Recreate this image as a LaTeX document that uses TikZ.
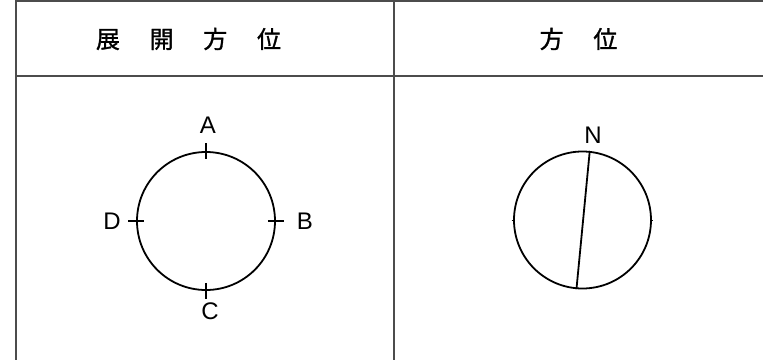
\documentclass[tikz,border=0pt]{standalone}
\usepackage{fontspec}
\setmainfont{Liberation Sans}
\newfontfamily\jpfont[AutoFakeBold=1.2]{Noto Sans CJK JP}
\begin{document}
\begin{tikzpicture}[x=1pt,y=-1pt,
  gridline/.style={draw=black!70, line width=2pt},
  ring/.style={circle, draw=black, line width=1.8pt, inner sep=0pt},
  tickmark/.style={draw=black, line width=1.8pt},
  lbl/.style={font=\fontsize{24}{24}\selectfont, inner sep=0pt},
  head/.style={font=\jpfont\bfseries\fontsize{24}{26}\selectfont, inner sep=0pt}]
\useasboundingbox (0,0) rectangle (763,360);
% table
\coordinate (tl) at (16,1);
\coordinate (tr) at (763,1);
\coordinate (ml) at (16,76);
\coordinate (mr) at (763,76);
\coordinate (bl) at (16,360);
\coordinate (dt) at (394,1);
\coordinate (db) at (394,360);
\draw[gridline] (tr) -- (tl) -- (bl);
\draw[gridline] (ml) -- (mr);
\draw[gridline] (dt) -- (db);
% headers
\node[head] (h1) at (188.5,39) {展\hspace{29.7pt}開\hspace{29.7pt}方\hspace{29.7pt}位};
\node[head] (h2) at (578.5,39) {方\hspace{29.7pt}位};
% left circle
\node[ring, minimum size=138pt] (c1) at (206,221) {};
\draw[tickmark] (c1.north) ++(0,-8) -- ++(0,16);
\draw[tickmark] (c1.south) ++(0,-8) -- ++(0,16);
\draw[tickmark] (c1.west) ++(-8,0) -- ++(16,0);
\draw[tickmark] (c1.east) ++(-8,0) -- ++(16,0);
\node[lbl] (A) at (208,125) {A};
\node[lbl] (B) at (305,221) {B};
\node[lbl] (C) at (210,311) {C};
\node[lbl] (D) at (112,221) {D};
% right circle
\node[ring, minimum size=137pt] (c2) at (582.5,220) {};
\draw[tickmark] (c2.84.5) -- (c2.265.2);
\draw[tickmark, line width=1pt] (c2.west) ++(-1.5,0) -- ++(3,0);
\draw[tickmark, line width=1pt] (c2.east) ++(-1.5,0) -- ++(3,0);
\node[lbl] (N) at (593,135) {N};
\end{tikzpicture}
\end{document}
